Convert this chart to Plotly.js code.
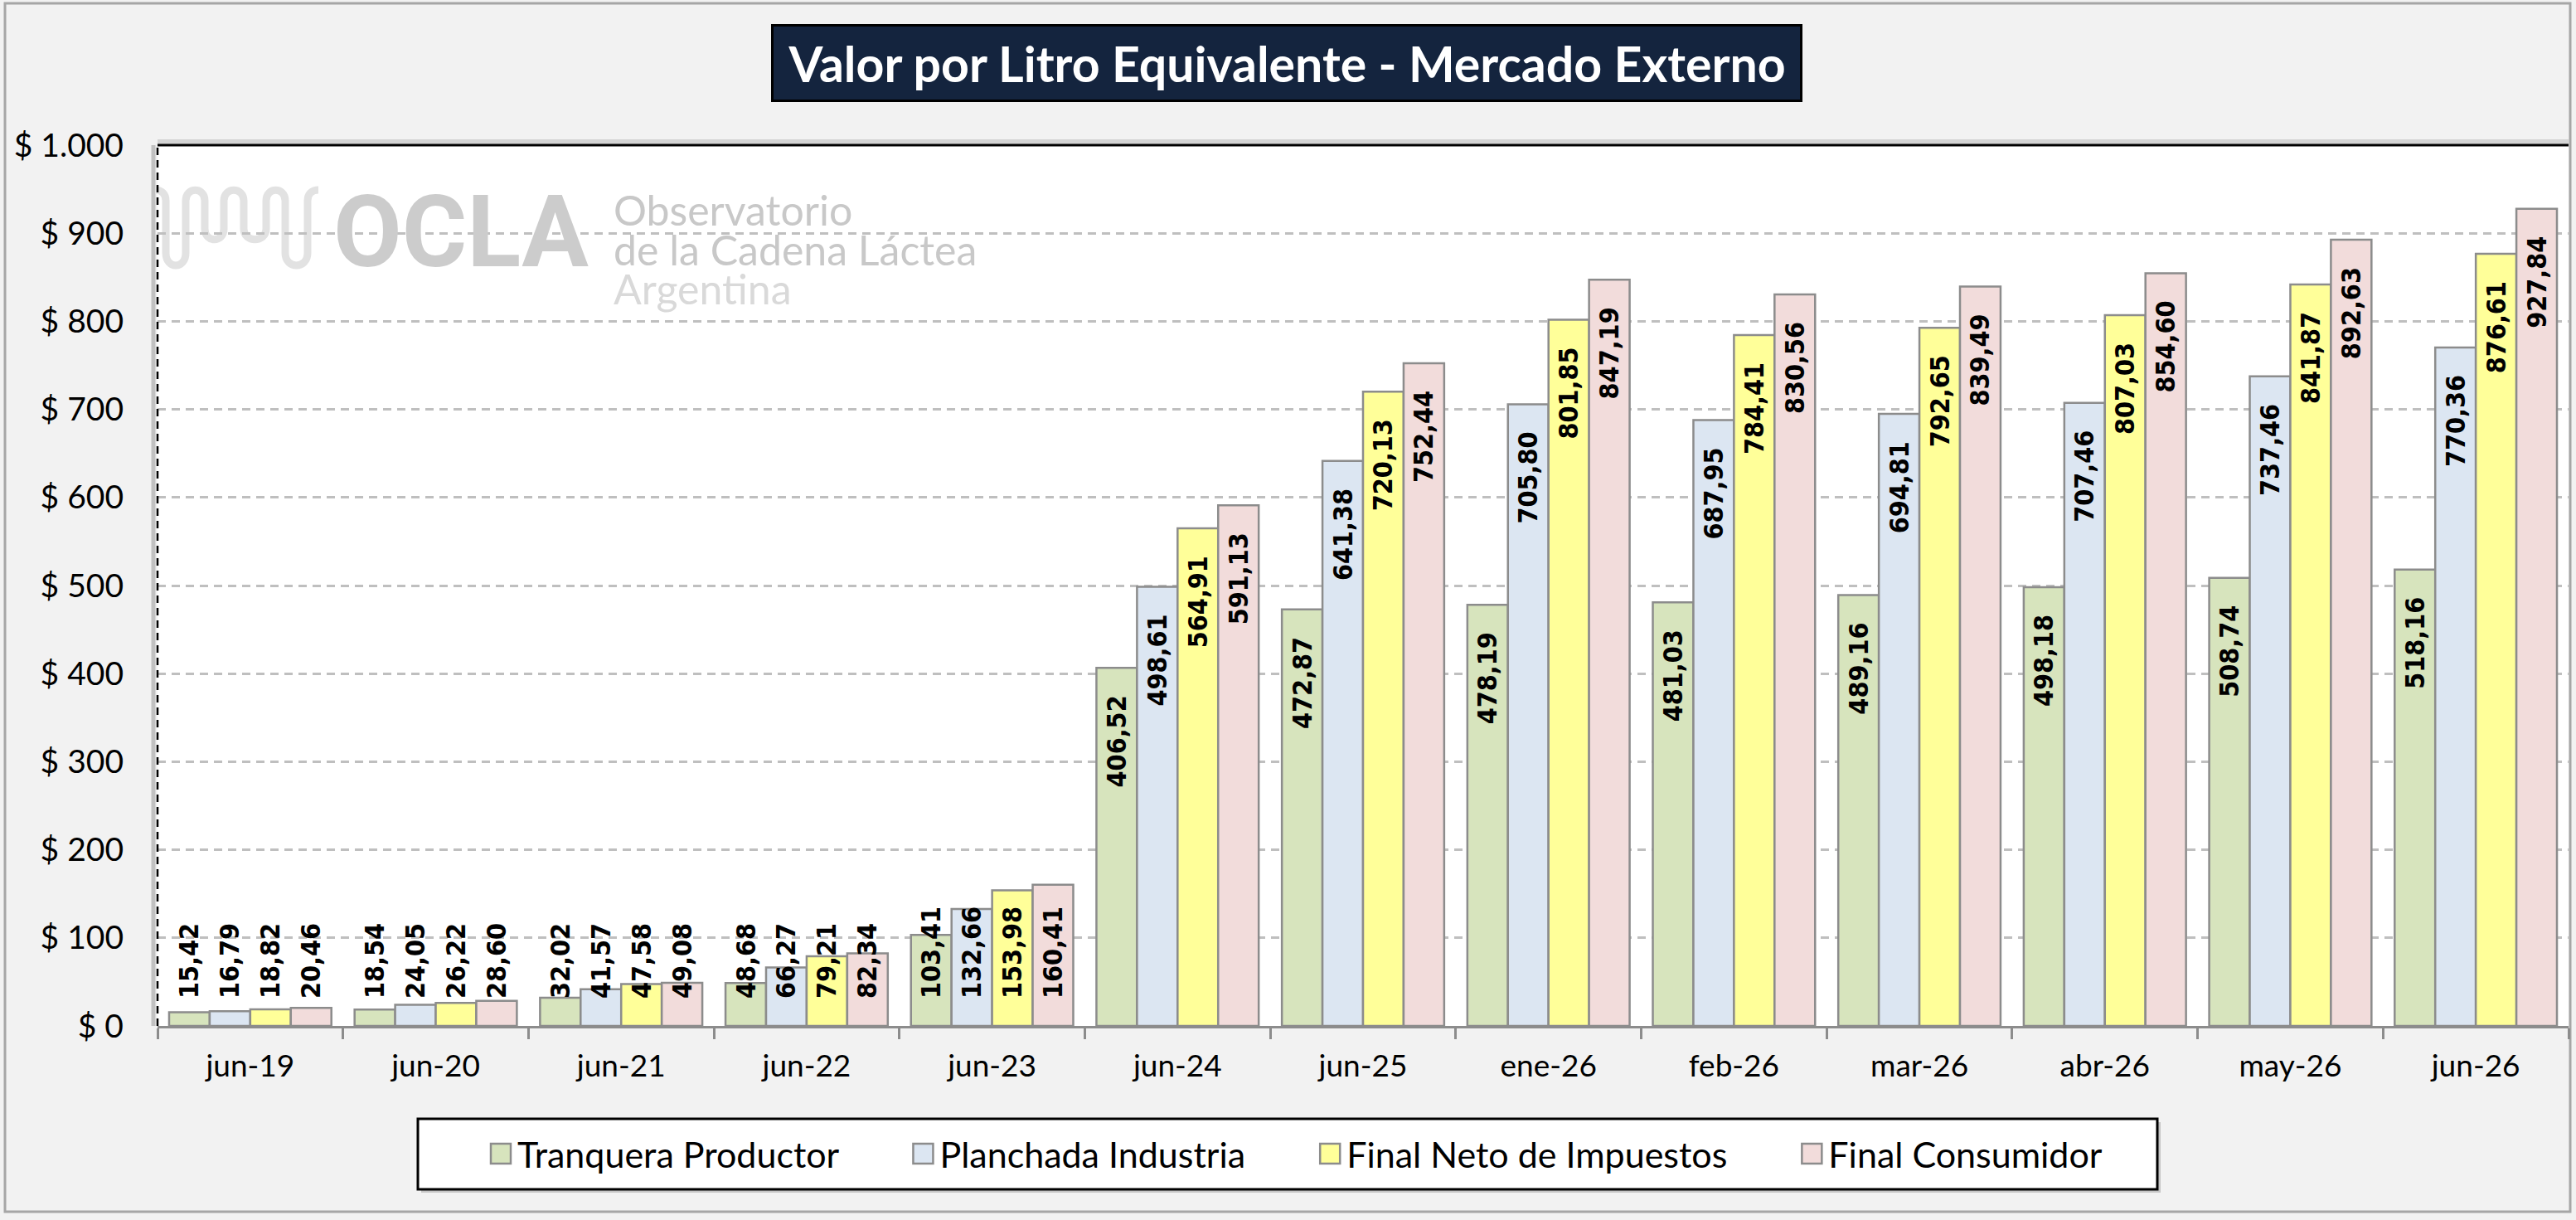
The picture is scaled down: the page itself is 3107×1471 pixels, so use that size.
<!DOCTYPE html>
<html>
<head>
<meta charset="utf-8">
<script src="https://cdn.plot.ly/plotly-3.0.1.min.js"></script>
<style>
    html, body { margin: 0; padding: 0; background: #f2f2f2; }
    #graph { width: 3107px; height: 1471px; }
</style>
</head>
<body>
<div id="graph"></div>
<script>
// chart data
const categories = ['jun-19', 'jun-20', 'jun-21', 'jun-22', 'jun-23', 'jun-24', 'jun-25',
    'ene-26', 'feb-26', 'mar-26', 'abr-26', 'may-26', 'jun-26'];

const tranqueraProductor = [15.42, 18.54, 32.02, 48.68, 103.41, 406.52, 472.87, 478.19, 481.03, 489.16, 498.18, 508.74, 518.16];
const planchadaIndustria = [16.79, 24.05, 41.57, 66.27, 132.66, 498.61, 641.38, 705.80, 687.95, 694.81, 707.46, 737.46, 770.36];
const finalNetoImpuestos = [18.82, 26.22, 47.58, 79.21, 153.98, 564.91, 720.13, 801.85, 784.41, 792.65, 807.03, 841.87, 876.61];
const finalConsumidor = [20.46, 28.60, 49.08, 82.34, 160.41, 591.13, 752.44, 847.19, 830.56, 839.49, 854.60, 892.63, 927.84];

const seriesNames = ['Tranquera Productor', 'Planchada Industria', 'Final Neto de Impuestos', 'Final Consumidor'];
const seriesValues = [tranqueraProductor, planchadaIndustria, finalNetoImpuestos, finalConsumidor];
const seriesColors = ['#d7e4bd', '#dce6f2', '#ffff99', '#f2dcdb'];

const yTickValues = [0, 100, 200, 300, 400, 500, 600, 700, 800, 900, 1000];
const yTickLabels = ['$ 0', '$ 100', '$ 200', '$ 300', '$ 400', '$ 500', '$ 600', '$ 700', '$ 800', '$ 900', '$ 1.000'];

const chartTitle = 'Valor por Litro Equivalente - Mercado Externo';

// page geometry (px)
const W = 3107, H = 1471;
const PLOT = { left: 190, right: 3098, top: 175, bottom: 1237 };

const SANS = 'Lato, "Open Sans", sans-serif';
const LABEL_FONT = '"DejaVu Sans Condensed", "DejaVu Sans", Verdana, sans-serif';

// bars shorter than this get their label at the base instead of the top
const BASE_LABEL_LIMIT = 200;
const PAD = '\u00a0\u00a0\u00a0';
const LEGEND_GAP = '\u00a0'.repeat(7);

function xp(px) {
    return (px - PLOT.left) / (PLOT.right - PLOT.left);
}

function yp(py) {
    return (PLOT.bottom - py) / (PLOT.bottom - PLOT.top);
}

function labelText(v) {
    return PAD + v.toFixed(2).replace('.', ',') + PAD;
}

function barTraces(name, values, color, group) {
    var high = { x: [], y: [] };
    var low = { x: [], y: [] };
    values.forEach(function (v, i) {
        var part = v < BASE_LABEL_LIMIT ? low : high;
        part.x.push(categories[i]);
        part.y.push(v);
    });
    return [high, low].map(function (part, k) {
        return {
            type: 'bar',
            name: name + LEGEND_GAP,
            x: part.x,
            y: part.y,
            text: part.y.map(labelText),
            textposition: 'inside',
            insidetextanchor: k === 0 ? 'end' : 'start',
            textangle: -90,
            constraintext: 'none',
            textfont: { family: LABEL_FONT, size: 32, color: '#000000', weight: 'bold' },
            marker: { color: color, line: { color: '#8c8c8c', width: 2.5 } },
            offsetgroup: group,
            legendgroup: group,
            showlegend: k === 0,
            hoverinfo: 'skip'
        };
    });
}

// OCLA watermark wave, in page px, turned into paper coords
function wavePath() {
    var segs = [
        ['M', [187, 229]], ['C', [195, 229, 200, 234, 200, 242]],
        ['L', [200, 305]], ['C', [200, 325, 224, 325, 224, 305]],
        ['L', [224, 242]], ['C', [224, 225, 247, 225, 247, 242]],
        ['L', [247, 276]], ['C', [247, 293, 270, 293, 270, 276]],
        ['L', [270, 242]], ['C', [270, 225, 294, 225, 294, 242]],
        ['L', [294, 276]], ['C', [294, 293, 321, 293, 321, 276]],
        ['L', [321, 242]], ['C', [321, 225, 344, 225, 344, 242]],
        ['L', [344, 305]], ['C', [344, 325, 371, 325, 371, 305]],
        ['L', [371, 242]], ['C', [371, 234, 376, 229, 384, 229]]
    ];
    return segs.map(function (s) {
        var out = [];
        for (var i = 0; i < s[1].length; i += 2) {
            out.push(xp(s[1][i]).toFixed(5) + ',' + yp(s[1][i + 1]).toFixed(5));
        }
        return s[0] + out.join(' ');
    }).join(' ');
}

function paperRect(x0, y0, x1, y1, style) {
    return Object.assign({
        type: 'rect', xref: 'paper', yref: 'paper',
        x0: xp(x0), x1: xp(x1), y0: yp(y0), y1: yp(y1)
    }, style);
}

function logoText(text, x, y, size, color, family, weight) {
    return {
        text: text, xref: 'paper', yref: 'paper', x: xp(x), y: yp(y),
        xanchor: 'left', yanchor: 'middle', showarrow: false,
        font: { family: family, size: size, color: color, weight: weight || 'normal' }
    };
}

function initPlot() {
    var traces = [];
    seriesNames.forEach(function (name, i) {
        traces = traces.concat(barTraces(name, seriesValues[i], seriesColors[i], 'g' + i));
    });

    var shapes = [
        // outer frame
        paperRect(6, 4, 3100, 1461, { line: { color: '#a6a6a6', width: 3 }, layer: 'below' }),
        // legend box + shadow
        paperRect(508, 1353, 2606, 1438, { fillcolor: 'rgba(0,0,0,0.18)', line: { width: 0 }, layer: 'below' }),
        paperRect(504, 1349, 2602, 1434, { fillcolor: '#ffffff', line: { color: '#000000', width: 3 }, layer: 'below' }),
        // plot shadow and borders
        { type: 'line', xref: 'paper', yref: 'paper', x0: xp(185), x1: xp(185), y0: 0, y1: 1,
          line: { color: 'rgba(0,0,0,0.2)', width: 5 }, layer: 'below' },
        { type: 'line', xref: 'paper', yref: 'paper', x0: 0, x1: 1, y0: yp(171), y1: yp(171),
          line: { color: 'rgba(0,0,0,0.12)', width: 6 }, layer: 'below' },
        { type: 'line', xref: 'paper', yref: 'paper', x0: 0, x1: 1, y0: 1, y1: 1,
          line: { color: '#000000', width: 3 } },
        { type: 'line', xref: 'paper', yref: 'paper', x0: 0, x1: 0, y0: 0, y1: 1,
          line: { color: '#000000', width: 2.5, dash: '9px,6px' } },
        // watermark wave
        { type: 'path', xref: 'paper', yref: 'paper', path: wavePath(),
          line: { color: '#e2e2e2', width: 9 }, layer: 'below' }
    ];

    var annotations = [
        {
            text: chartTitle, xref: 'paper', yref: 'paper', x: xp(1552), y: yp(76),
            xanchor: 'center', yanchor: 'middle', showarrow: false,
            bgcolor: '#14243e', bordercolor: '#000000', borderwidth: 3, borderpad: 0,
            width: 1238, height: 88,
            font: { family: SANS, size: 59, color: '#ffffff', weight: 'bold' }
        },
        logoText('OCLA', 400, 280, 120, '#cccccc', 'Roboto, "DejaVu Sans", sans-serif', 'bold'),
        logoText('Observatorio', 738, 253, 50, '#c8c8c8', SANS),
        logoText('de la Cadena Láctea', 738, 301, 50, '#c8c8c8', SANS),
        logoText('Argentina', 738, 348, 50, '#d9d9d9', SANS)
    ];

    var layout = {
        width: W,
        height: H,
        margin: { l: PLOT.left, r: W - PLOT.right, t: PLOT.top, b: H - PLOT.bottom, pad: 0 },
        paper_bgcolor: '#f2f2f2',
        plot_bgcolor: '#ffffff',
        barmode: 'group',
        bargap: 0.125,
        bargroupgap: 0,
        showlegend: true,
        legend: {
            orientation: 'h',
            x: xp(584), xanchor: 'left',
            y: yp(1391), yanchor: 'middle',
            bgcolor: 'rgba(0,0,0,0)',
            borderwidth: 0,
            traceorder: 'normal',
            font: { family: SANS, size: 43, color: '#000000' }
        },
        xaxis: {
            type: 'category',
            categoryorder: 'array',
            categoryarray: categories,
            tickson: 'boundaries',
            ticks: 'outside',
            ticklen: 13,
            tickwidth: 3,
            tickcolor: '#8c8c8c',
            showline: true,
            linecolor: '#8c8c8c',
            linewidth: 3,
            showgrid: false,
            ticklabelstandoff: 14,
            tickfont: { family: SANS, size: 37, color: '#000000' },
            fixedrange: true
        },
        yaxis: {
            range: [0, 1000],
            tickvals: yTickValues,
            ticktext: yTickLabels,
            ticks: '',
            showline: false,
            zeroline: false,
            showgrid: true,
            gridcolor: '#bfbfbf',
            gridwidth: 3,
            griddash: '10px,7px',
            ticklabelstandoff: 40,
            tickfont: { family: SANS, size: 39, color: '#000000' },
            fixedrange: true
        },
        shapes: shapes,
        annotations: annotations
    };

    var config = { displayModeBar: false, responsive: false, staticPlot: true };

    Plotly.newPlot('graph', traces, layout, config).then(function (gd) {
        // Excel-sized legend swatches
        gd.querySelectorAll('.legend .legendpoints path').forEach(function (p) {
            p.setAttribute('transform', (p.getAttribute('transform') || '') + ' scale(2)');
            p.style.vectorEffect = 'non-scaling-stroke';
        });
    });
}

document.addEventListener('DOMContentLoaded', initPlot);
</script>
</body>
</html>
